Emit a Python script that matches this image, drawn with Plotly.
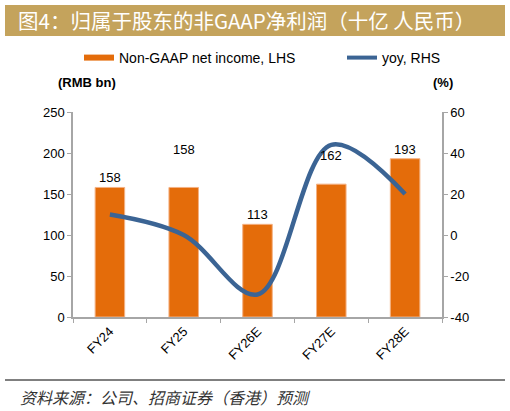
import plotly.graph_objects as go

years = ['FY24', 'FY25', 'FY26E', 'FY27E', 'FY28E']
net_income = [158, 158, 113, 162, 193]
yoy = [10, 0, -29, 44, 20]
income_ticks = [0, 50, 100, 150, 200, 250]
yoy_ticks = [-40, -20, 0, 20, 40, 60]
# some labels in the source sit above their bars
label_shift = [0, 28, 0, 19, 0]

W, H = 510, 411
L, R, T, B = 73, 68, 112, 94


def px(x):
    return (x - L) / (W - L - R)


def py(y):
    return (H - B - y) / (H - T - B)


orange = '#E46C0A'
blue = '#3B6494'
font = 'Liberation Sans, Arial'

fig = go.Figure()

fig.add_trace(go.Bar(
    x=years, y=net_income, marker=dict(color=orange, line=dict(color='#F4B183', width=1)),
    showlegend=False, width=0.4
))
fig.add_trace(go.Scatter(
    x=years, y=yoy, yaxis='y2', mode='lines',
    line=dict(color=blue, width=4.5, shape='spline', smoothing=1.0),
    showlegend=False
))

# legend entries
fig.add_trace(go.Scatter(x=[None], y=[None], mode='lines', name='Non-GAAP net income, LHS',
                         line=dict(color=orange, width=6), legend='legend'))
fig.add_trace(go.Scatter(x=[None], y=[None], mode='lines', name='yoy, RHS',
                         line=dict(color=blue, width=4), legend='legend2'))

for yr, v, s in zip(years, net_income, label_shift):
    fig.add_annotation(x=yr, y=v, text=str(v), showarrow=False, yanchor='bottom',
                       yshift=s, font=dict(size=13, color='black', family=font))

# title bar
fig.add_shape(type='rect', xref='paper', yref='paper',
              x0=px(5), x1=px(505), y0=py(36), y1=py(5),
              fillcolor='#C4A35C', line=dict(width=0), layer='below')
fig.add_annotation(xref='paper', yref='paper', x=px(16), y=py(20), xanchor='left',
                   yanchor='middle',
                   text='图4：归属于股东的非GAAP净利润（十亿 人民币）', showarrow=False,
                   font=dict(size=20.5, color='white', family='Noto Sans CJK SC'))

# axis unit labels
fig.add_annotation(xref='paper', yref='paper', x=px(87), y=py(82), text='<b>(RMB bn)</b>',
                   xanchor='center', yanchor='middle',
                   showarrow=False, font=dict(size=13, color='black', family=font))
fig.add_annotation(xref='paper', yref='paper', x=px(443), y=py(82), text='<b>(%)</b>',
                   xanchor='center', yanchor='middle',
                   showarrow=False, font=dict(size=13, color='black', family=font))

# footer
fig.add_shape(type='line', xref='paper', yref='paper', x0=px(5), x1=px(505),
              y0=py(380), y1=py(380), line=dict(color='black', width=1))
fig.add_annotation(xref='paper', yref='paper', x=px(18), y=py(397), xanchor='left',
                   yanchor='middle',
                   text='资料来源：公司、招商证券（香港）预测', showarrow=False,
                   font=dict(size=16, color='#333333', family='Noto Sans CJK SC', style='italic'))

axis_style = dict(showline=True, linecolor='#A6A6A6', linewidth=1.5, ticks='outside',
                  ticklen=4, tickcolor='#A6A6A6', showgrid=False, zeroline=False,
                  tickfont=dict(size=13, color='black', family=font))

fig.update_layout(
    width=W, height=H,
    margin=dict(l=L, r=R, t=T, b=B),
    plot_bgcolor='white', paper_bgcolor='white',
    bargap=0.6,
    xaxis=dict(type='category', tickson='boundaries', tickangle=-45, **axis_style),
    yaxis=dict(range=[0, 250], tickvals=income_ticks,
               ticktext=[str(v) for v in income_ticks], **axis_style),
    yaxis2=dict(range=[-40, 60], tickvals=yoy_ticks, ticktext=[str(v) for v in yoy_ticks],
                overlaying='y', side='right', **axis_style),
    legend=dict(orientation='h', x=px(79), y=py(58), xanchor='left', yanchor='middle',
                font=dict(size=14, color='black', family=font), bgcolor='rgba(0,0,0,0)'),
    legend2=dict(orientation='h', x=px(342), y=py(58), xanchor='left', yanchor='middle',
                 font=dict(size=14, color='black', family=font), bgcolor='rgba(0,0,0,0)'),
)

fig.write_html('out.html', config={'displayModeBar': False},
               post_script="document.body.style.margin='0';")
